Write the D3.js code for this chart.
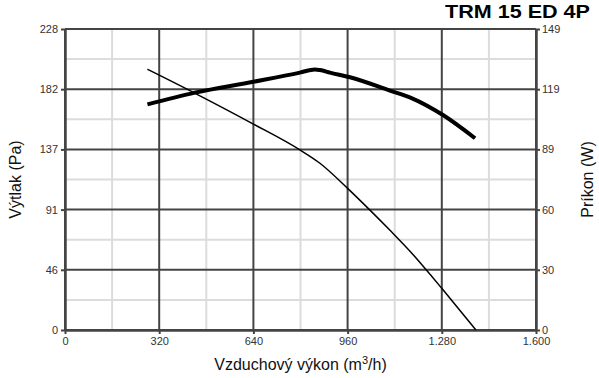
<!DOCTYPE html>
<html>
<head>
<meta charset="utf-8">
<script src="https://cdn.jsdelivr.net/npm/d3@7"></script>
<style>
  body { margin: 0; background: #fff; }
  svg { display: block; font-family: "Open Sans", "Liberation Sans", Arial, sans-serif; }
</style>
</head>
<body>
<div id="chart"></div>
<script>
// ── TRM 15 ED 4P — fan curve: pressure (left) and power (right) ─────
const xTicks = [0, 320, 640, 960, 1280, 1600];
const xTickLabels = ["0", "320", "640", "960", "1.280", "1.600"];
const yLeftTicks = [0, 45.6, 91.2, 136.8, 182.4, 228];
const yLeftLabels = ["0", "46", "91", "137", "182", "228"];
const yRightTicks = [0, 29.8, 59.6, 89.4, 119.2, 149];
const yRightLabels = ["0", "30", "60", "89", "119", "149"];

// pressure (Pa) vs airflow (m3/h)
const pressureFlow = [280, 442, 640, 798, 866, 960, 1036, 1104, 1182, 1240, 1282, 1396];
const pressureVals = [197.5, 179.3, 156.0, 136.4, 126.3, 107.3, 90.8, 75.5, 57.2, 42.2, 31.0, 0];

// power (W) vs airflow (m3/h)
const powerFlow = [280, 442, 640, 798, 849, 866, 900, 968, 1104, 1179, 1284, 1393];
const powerVals = [111.7, 117.5, 122.9, 127.4, 129.0, 128.7, 127.4, 125.1, 118.5, 114.7, 106.4, 94.9];

const width = 599, height = 378;
const margin = { top: 29, right: 63, bottom: 48, left: 65 };
const innerW = width - margin.left - margin.right;
const innerH = height - margin.top - margin.bottom;

const svg = d3.select("#chart").append("svg")
    .attr("width", width).attr("height", height);
const g = svg.append("g").attr("transform", `translate(${margin.left},${margin.top})`);

const x = d3.scaleLinear().domain([0, 1600]).range([0, innerW]);
const yL = d3.scaleLinear().domain([0, 228]).range([innerH, 0]);
const yR = d3.scaleLinear().domain([0, 149]).range([innerH, 0]);

// minor grid
const minorX = d3.range(0, 5).map(i => xTicks[i] + 160);
const minorY = d3.range(0, 5).map(i => yLeftTicks[i] + 22.8);
g.selectAll(".mx").data(minorX).join("line")
    .attr("x1", d => x(d)).attr("x2", d => x(d)).attr("y1", 0).attr("y2", innerH)
    .attr("stroke", "#dcdcdc").attr("stroke-width", 2);
g.selectAll(".my").data(minorY).join("line")
    .attr("x1", 0).attr("x2", innerW).attr("y1", d => yL(d)).attr("y2", d => yL(d))
    .attr("stroke", "#dcdcdc").attr("stroke-width", 2);

// major grid
g.selectAll(".gx").data(xTicks).join("line")
    .attr("x1", d => x(d)).attr("x2", d => x(d)).attr("y1", 0).attr("y2", innerH)
    .attr("stroke", "#444").attr("stroke-width", 2);
g.selectAll(".gy").data(yLeftTicks).join("line")
    .attr("x1", 0).attr("x2", innerW).attr("y1", d => yL(d)).attr("y2", d => yL(d))
    .attr("stroke", "#444").attr("stroke-width", 2);

// axes
const styleAxis = sel => {
    sel.select(".domain").attr("stroke", "#444").attr("stroke-width", 2.5);
    sel.selectAll(".tick line").attr("stroke", "#444").attr("stroke-width", 2);
    sel.selectAll(".tick text").style("font-size", "11px").style("fill", "#333");
};
g.append("g").attr("transform", `translate(0,${innerH})`)
    .call(d3.axisBottom(x).tickValues(xTicks).tickFormat((d, i) => xTickLabels[i])
        .tickSizeInner(4).tickSizeOuter(0).tickPadding(3))
    .call(styleAxis);
g.append("g")
    .call(d3.axisLeft(yL).tickValues(yLeftTicks).tickFormat((d, i) => yLeftLabels[i])
        .tickSizeInner(4).tickSizeOuter(0).tickPadding(3))
    .call(styleAxis);
g.append("g").attr("transform", `translate(${innerW},0)`)
    .call(d3.axisRight(yR).tickValues(yRightTicks).tickFormat((d, i) => yRightLabels[i])
        .tickSizeInner(4).tickSizeOuter(0).tickPadding(2))
    .call(styleAxis);

// curves
g.append("path")
    .attr("fill", "none").attr("stroke", "#000").attr("stroke-width", 1.5)
    .attr("d", d3.line().curve(d3.curveMonotoneX)
        .x((d, i) => x(pressureFlow[i])).y(d => yL(d))(pressureVals));
g.append("path")
    .attr("fill", "none").attr("stroke", "#000").attr("stroke-width", 4)
    .attr("stroke-linejoin", "round")
    .attr("d", d3.line().curve(d3.curveMonotoneX)
        .x((d, i) => x(powerFlow[i])).y(d => yR(d))(powerVals));

// labels
svg.append("text").attr("x", 590).attr("y", 18).attr("text-anchor", "end")
    .attr("textLength", 145).attr("lengthAdjust", "spacingAndGlyphs")
    .style("font-family", "'Liberation Sans', Arial, sans-serif")
    .style("font-weight", "bold").style("font-size", "19px").text("TRM 15 ED 4P");

const labelFont = "'Liberation Sans', Arial, sans-serif";
const xl = svg.append("text").attr("x", margin.left + innerW / 2).attr("y", 370)
    .attr("text-anchor", "middle").style("font-family", labelFont)
    .style("font-size", "16px").style("fill", "#111");
xl.append("tspan").text("Vzduchový výkon (m");
xl.append("tspan").attr("dy", -6).style("font-size", "11px").text("3");
xl.append("tspan").attr("dy", 6).text("/h)");

svg.append("text").attr("transform", `translate(21,${margin.top + innerH / 2}) rotate(-90)`)
    .attr("text-anchor", "middle").style("font-family", labelFont)
    .style("font-size", "16px").style("fill", "#111")
    .text("Výtlak (Pa)");
svg.append("text").attr("transform", `translate(593,${margin.top + innerH / 2}) rotate(-90)`)
    .attr("text-anchor", "middle").style("font-family", labelFont)
    .style("font-size", "16px").style("fill", "#111")
    .text("Príkon (W)");
</script>
</body>
</html>
